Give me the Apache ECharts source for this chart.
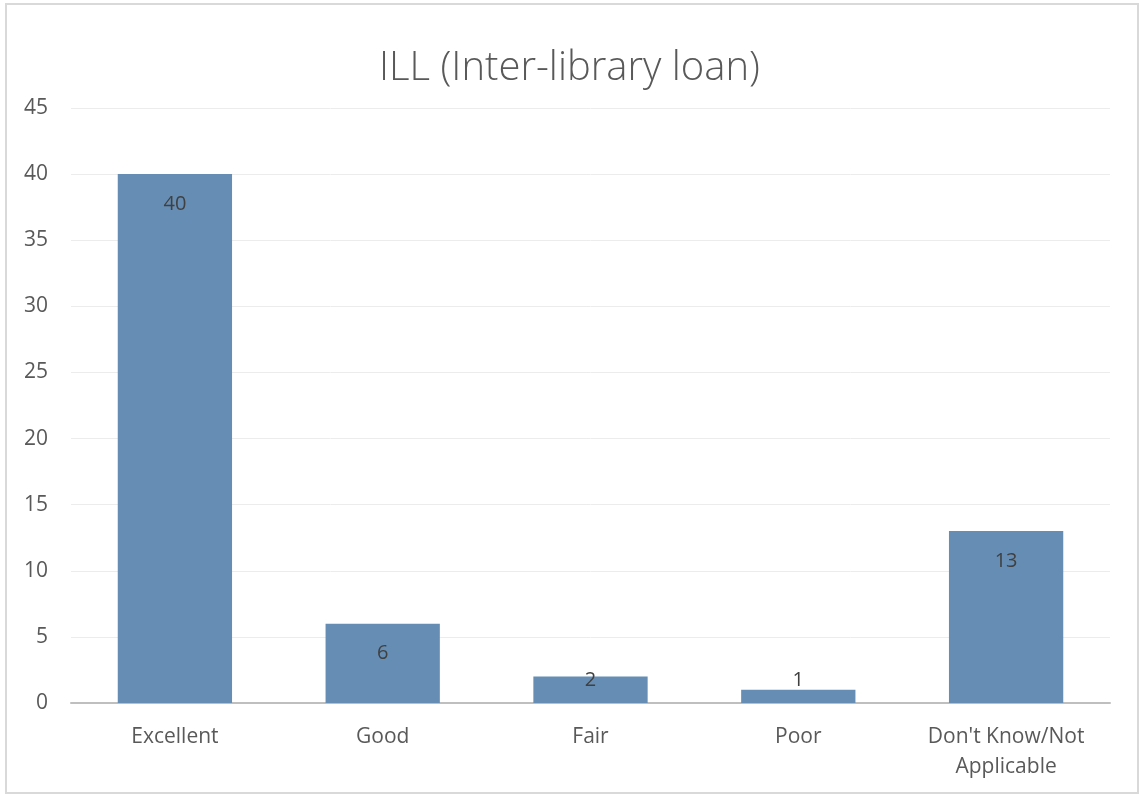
<!DOCTYPE html>
<html>
<head>
<meta charset="utf-8">
<script src="https://cdn.jsdelivr.net/npm/echarts@6/dist/echarts.min.js"></script>
<style>
  html, body { margin: 0; padding: 0; background: #fff; }
  #chart { width: 1139px; height: 795px; }
</style>
</head>
<body>
<div id="chart"></div>
<script>
// 数据
var categories = ['Excellent', 'Good', 'Fair', 'Poor', "Don't Know/Not\nApplicable"]
var counts = [40, 6, 2, 1, 13]
var yTicks = { min: 0, max: 45, interval: 5 }

var font = '"Open Sans", "Segoe UI", sans-serif'

// small bars: Excel pushes the label up out of the bar
function labelFor (v) {
  if (v >= 5) return { position: 'insideTop', distance: 20 }
  if (v >= 2) return { position: 'insideTop', distance: -6 }
  return { position: 'top', distance: -1 }
}

var chart = echarts.init(document.getElementById('chart'))
chart.setOption({
  animation: false,
  title: {
    text: 'ILL (Inter-library loan)',
    left: 'center',
    top: 44,
    textStyle: { fontFamily: font, fontSize: 40, fontWeight: 300, color: '#595959' }
  },
  graphic: [{
    type: 'rect',
    shape: { x: 6, y: 4, width: 1132, height: 789 },
    style: { fill: 'none', stroke: '#d9d9d9', lineWidth: 2 },
    silent: true
  }],
  grid: { left: 71, right: 29, top: 108, bottom: 92 },
  xAxis: {
    type: 'category',
    data: categories,
    axisLine: { lineStyle: { color: '#bfbfbf', width: 2 } },
    axisTick: { show: false },
    axisLabel: { fontFamily: font, fontSize: 21, color: '#595959', margin: 19, lineHeight: 30, interval: 0 }
  },
  yAxis: {
    type: 'value',
    min: yTicks.min,
    max: yTicks.max,
    interval: yTicks.interval,
    axisLine: { show: false },
    axisTick: { show: false },
    axisLabel: { fontFamily: font, fontSize: 21, color: '#595959', margin: 23 },
    splitLine: { lineStyle: { color: '#ececec', width: 1 } }
  },
  series: [{
    type: 'bar',
    barCategoryGap: '45%',
    itemStyle: { color: '#668eb4' },
    label: { show: true, fontFamily: font, fontSize: 20, color: '#404040' },
    data: counts.map(function (v) {
      return { value: v, label: labelFor(v) }
    })
  }]
})
</script>
</body>
</html>
